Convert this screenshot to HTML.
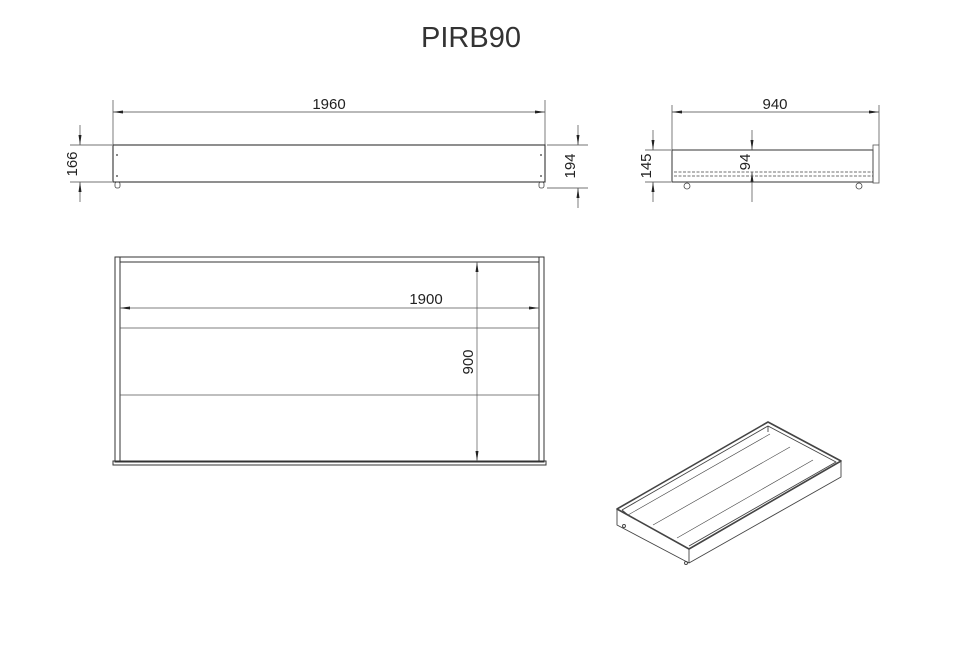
<!DOCTYPE html>
<html><head><meta charset="utf-8"><style>
html,body{margin:0;padding:0;background:#fff;}
svg{display:block;}
text{font-family:"Liberation Sans",sans-serif;fill:#222;}
</style></head><body>
<svg width="957" height="667" viewBox="0 0 957 667" xmlns="http://www.w3.org/2000/svg">
<defs>
<marker id="a" markerWidth="10" markerHeight="6" refX="10" refY="3" orient="auto-start-reverse" markerUnits="userSpaceOnUse">
<path d="M0,1.5 L10,3 L0,4.5 Z" fill="#222"/></marker>
</defs>
<text x="471" y="47" font-size="29" text-anchor="middle" style="fill:#333">PIRB90</text>

<!-- front view -->
<g stroke="#444" fill="none" stroke-width="0.7">
<line x1="113" y1="100" x2="113" y2="145"/><line x1="545" y1="100" x2="545" y2="145"/>
<line x1="113" y1="112" x2="545" y2="112" marker-start="url(#a)" marker-end="url(#a)"/>
<line x1="70" y1="145" x2="112" y2="145"/><line x1="70" y1="182" x2="112" y2="182"/>
<line x1="80" y1="125" x2="80" y2="145" marker-end="url(#a)"/><line x1="80" y1="202" x2="80" y2="182" marker-end="url(#a)"/>
<line x1="547" y1="145" x2="588" y2="145"/><line x1="547" y1="188" x2="588" y2="188"/>
<line x1="578" y1="125" x2="578" y2="145" marker-end="url(#a)"/><line x1="578" y1="208" x2="578" y2="188" marker-end="url(#a)"/>
</g>
<rect x="113" y="145" width="432" height="37" fill="none" stroke="#333" stroke-width="1.1"/>
<g fill="#333"><circle cx="117" cy="155" r="0.9"/><circle cx="117" cy="176" r="0.9"/><circle cx="541" cy="155" r="0.9"/><circle cx="541" cy="176" r="0.9"/></g>
<g fill="none" stroke="#444" stroke-width="0.8"><rect x="115" y="182" width="5" height="6" rx="2"/><rect x="539" y="182" width="5" height="6" rx="2"/></g>
<text x="329" y="109" font-size="15" text-anchor="middle">1960</text>
<text transform="translate(77,164) rotate(-90)" font-size="15" text-anchor="middle">166</text>
<text transform="translate(575,166) rotate(-90)" font-size="15" text-anchor="middle">194</text>

<!-- side view -->
<g stroke="#444" fill="none" stroke-width="0.7">
<line x1="672" y1="105" x2="672" y2="150"/><line x1="879" y1="105" x2="879" y2="145"/>
<line x1="672" y1="112" x2="879" y2="112" marker-start="url(#a)" marker-end="url(#a)"/>
<line x1="645" y1="150" x2="671" y2="150"/><line x1="645" y1="182" x2="671" y2="182"/>
<line x1="653" y1="130" x2="653" y2="150" marker-end="url(#a)"/><line x1="653" y1="202" x2="653" y2="182" marker-end="url(#a)"/>
<line x1="752" y1="130" x2="752" y2="150" marker-end="url(#a)"/><line x1="752" y1="202" x2="752" y2="172" marker-end="url(#a)"/>
</g>
<rect x="672" y="150" width="201" height="32" fill="none" stroke="#333" stroke-width="1"/>
<rect x="873" y="145" width="6" height="38" fill="none" stroke="#555" stroke-width="0.8"/>
<g stroke="#444" stroke-width="0.8" stroke-dasharray="3,1.5"><line x1="674" y1="172" x2="873" y2="172"/><line x1="674" y1="176" x2="873" y2="176"/></g>
<g fill="none" stroke="#444" stroke-width="0.8"><circle cx="687" cy="186" r="3"/><circle cx="859" cy="186" r="3"/></g>
<text x="775" y="109" font-size="15" text-anchor="middle">940</text>
<text transform="translate(651,166) rotate(-90)" font-size="15" text-anchor="middle">145</text>
<text transform="translate(750,162) rotate(-90)" font-size="15" text-anchor="middle">94</text>

<!-- plan view -->
<g fill="none" stroke="#333" stroke-width="1">
<rect x="115" y="257" width="429" height="205"/>
<line x1="120" y1="257" x2="120" y2="461"/><line x1="539" y1="257" x2="539" y2="461"/>
<line x1="120" y1="262" x2="539" y2="262"/>
<rect x="113" y="461" width="433" height="4"/>
</g>
<g stroke="#555" stroke-width="0.7" fill="none">
<line x1="120" y1="328" x2="539" y2="328"/><line x1="120" y1="395" x2="539" y2="395"/>
<line x1="120" y1="308" x2="539" y2="308" marker-start="url(#a)" marker-end="url(#a)"/>
<line x1="477" y1="262" x2="477" y2="461" marker-start="url(#a)" marker-end="url(#a)"/>
</g>
<text x="426" y="304" font-size="15" text-anchor="middle">1900</text>
<text transform="translate(473,362) rotate(-90)" font-size="15" text-anchor="middle">900</text>

<!-- iso view -->
<g fill="none" stroke="#444" stroke-width="0.9" stroke-linejoin="round">
<path d="M617,509 L768,422 L841,461 L689,549 Z" stroke-width="1.6"/>
<path d="M617,509 L617,525 L689,563 L841,477 L841,461"/>
<line x1="689" y1="549" x2="689" y2="563"/>
<path d="M622,510 L768,426 L836,462 L689,546"/>
<line x1="768" y1="426" x2="768" y2="432"/>
<line x1="622" y1="510" x2="628" y2="515"/>
<line x1="628" y1="515" x2="770" y2="434" stroke-width="0.6"/>
<line x1="653" y1="525" x2="790" y2="447" stroke-width="0.6"/>
<line x1="677" y1="538" x2="813" y2="460" stroke-width="0.6"/>
<circle cx="624" cy="526" r="1.5"/><circle cx="686" cy="563" r="1.5"/>
</g>
</svg>
</body></html>
